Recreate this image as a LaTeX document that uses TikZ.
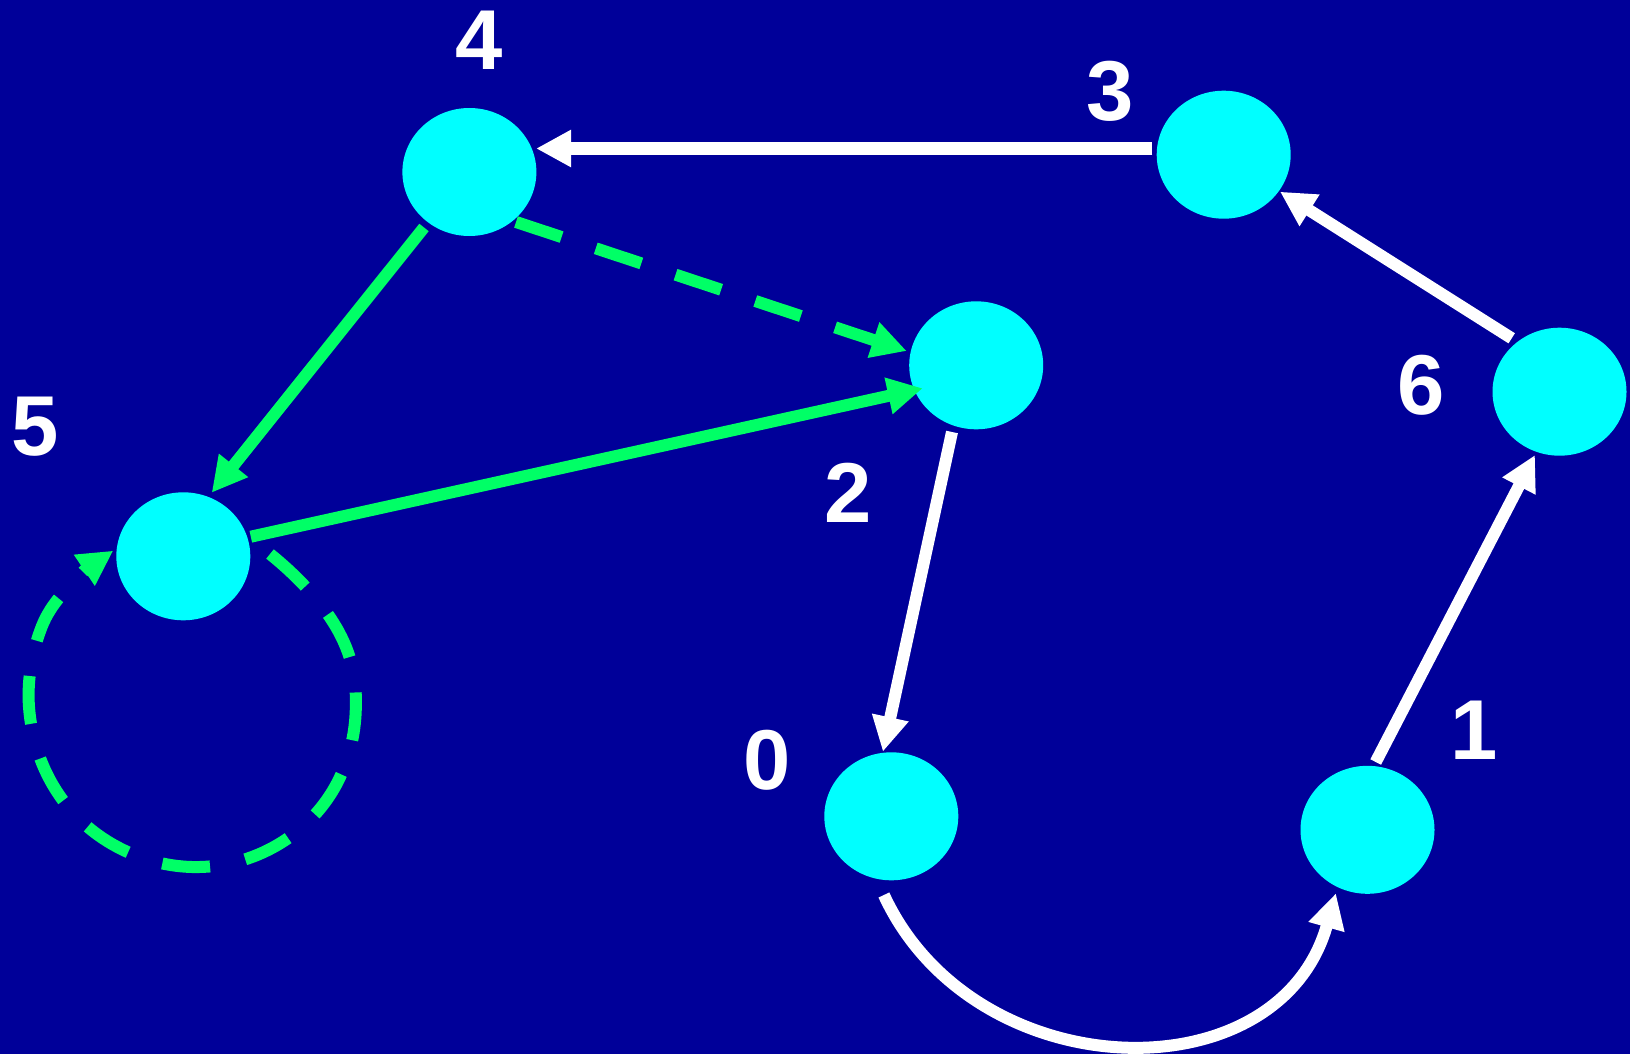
\documentclass[tikz,border=0pt]{standalone}
\usepackage{fontspec}
\setmainfont{Liberation Sans}
\usetikzlibrary{arrows.meta,shapes.geometric}
\definecolor{bgblue}{RGB}{0,0,153}
\definecolor{nodecyan}{RGB}{0,255,255}
\definecolor{edgegreen}{RGB}{0,255,102}
\tikzset{
  vtx/.style={ellipse, fill=nodecyan, draw=none, minimum width=134pt, minimum height=128pt, inner sep=0pt},
  lbl/.style={text=white, font=\bfseries\fontsize{85}{90}\selectfont, inner sep=0pt},
  wedge/.style={draw=white, line width=12pt, -{Triangle[length=35pt,width=35pt]}},
  gedge/.style={draw=edgegreen, line width=12pt, -{Triangle[length=35pt,width=35pt]}},
  gdash/.style={gedge, dash pattern=on 48pt off 36pt},
}
\begin{document}
\begin{tikzpicture}[x=1pt,y=-1pt]
\useasboundingbox (0,0) rectangle (1630,1054);
\fill[bgblue] (0,0) rectangle (1630,1054);
% vertices
\node[vtx] (n4) at (469.4,172) {};
\node[vtx] (n3) at (1223.7,154.7) {};
\node[vtx] (n2) at (976.2,365.3) {};
\node[vtx] (n6) at (1559.5,391.7) {};
\node[vtx] (n5) at (183.3,556.3) {};
\node[vtx] (n0) at (891.3,816.3) {};
\node[vtx] (n1) at (1367.5,829.8) {};
% labels
\node[lbl] (l4) at (479.3,40.3) {4};
\node[lbl] (l3) at (1110,91) {3};
\node[lbl] (l2) at (848,492.7) {2};
\node[lbl] (l6) at (1420.7,385.5) {6};
\node[lbl] (l5) at (35.3,426.2) {5};
\node[lbl] (l0) at (766.8,760) {0};
\node[lbl] (l1) at (1474,730.5) {1};
% white edges
\draw[wedge] ([shift={(-71.4,-6.2)}]n3.center) -- ([shift={(66.7,-23.5)}]n4.center);
\draw[wedge] ([shift={(-47.8,-53.4)}]n6.center) -- ([shift={(56.3,37)}]n3.center);
\draw[wedge] ([shift={(8.2,-67.8)}]n1.center) -- ([shift={(-24.5,63.3)}]n6.center);
\draw[wedge] ([shift={(-24.2,66.7)}]n2.center) -- ([shift={(-8.4,-64.6)}]n0.center);
\draw[wedge] ([shift={(-7.4,78.7)}]n0.center) .. controls +(89.5,193.8) and +(-57.5,204.5) .. ([shift={(-31.6,63.5)}]n1.center);
% green edges
\draw[gedge] ([shift={(-45.4,55.5)}]n4.center) -- ([shift={(28.4,-63.6)}]n5.center);
\draw[gedge] ([shift={(67.5,-19.6)}]n5.center) -- ([shift={(-53.5,23)}]n2.center);
\draw[gdash] ([shift={(46.6,50)}]n4.center) -- ([shift={(-69.5,-14.3)}]n2.center);
\draw[gdash, shift={(n5.center)}]
  (86.7,-2.3)
  .. controls +(28,22.5) and +(-15,-27.65) .. (155.4,75.4)
  .. controls +(15,27.65) and +(1.17,-28.05) .. (172.4,155.7)
  .. controls +(-1.17,28.05) and +(14.65,-23.8) .. (148.7,235.7)
  .. controls +(-14.65,23.8) and +(24.5,-13.1) .. (88.7,291.7)
  .. controls +(-24.5,13.1) and +(28,0.7) .. (8.7,310.7)
  .. controls +(-28,-0.7) and +(24.15,14) .. (-71.3,287.7)
  .. controls +(-24.15,-14) and +(14.5,24) .. (-129.3,230.7)
  .. controls +(-14.5,-24) and +(2.1,28.2) .. (-154.3,150.7)
  .. controls +(-2.1,-28.2) and +(-9.3,23.45) .. (-141.3,69.7)
  .. controls +(9.3,-23.45) and +(-12.5,13.2) .. (-101.3,16.7)
  .. controls +(12.5,-13.2) and +(-10.8,7.3) .. (-70,-5.6);
\end{tikzpicture}
\end{document}
